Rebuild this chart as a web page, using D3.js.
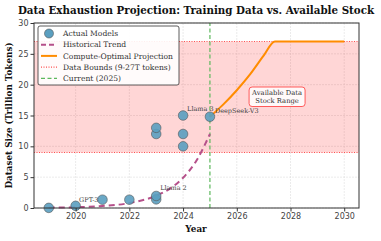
<!DOCTYPE html>
<html>
<head>
<style>
  body { margin:0; background:#fff; }
  svg text { font-family: "DejaVu Serif", serif; }
  .tick text { font-family: "DejaVu Sans", sans-serif; fill:#444; font-size:8px; }
</style>
</head>
<body>
<div id="chart"></div>
<script src="https://d3js.org/d3.v7.min.js"></script>
<script>
// actual model points
var modelYears  = [2019, 2020, 2021, 2022, 2023, 2023, 2023, 2023, 2024, 2024, 2024, 2025];
var modelTokens = [0.02, 0.35, 1.35, 1.35, 1.4, 1.95, 12, 13, 10, 12, 15, 14.8];
var labels = [
  {name:"GPT-3", i:2, dx:-4, dy:2, anchor:"end"},
  {name:"Llama 2", i:5, dx:4, dy:-6, anchor:"start"},
  {name:"Llama 3", i:10, dx:4, dy:-5, anchor:"start"},
  {name:"DeepSeek-V3", i:11, dx:5, dy:-4, anchor:"start"}
];
// historical trend (dashed)
var trendYears  = [2019, 2020, 2021, 2022, 2023, 2023.5, 2024, 2024.5, 2025];
var trendTokens = [0.05, 0.13, 0.33, 0.8, 2.0, 3.1, 4.9, 7.7, 12];
// compute-optimal projection
var projYears  = [2025, 2025.5, 2026, 2026.5, 2027, 2027.42, 2028, 2029, 2030];
var projTokens = [14.8, 16.8, 19.1, 21.7, 24.7, 27, 27, 27, 27];
// data stock bounds
var boundLow = 9, boundHigh = 27;
var currentYear = 2025;
var xTicks = [2020, 2022, 2024, 2026, 2028, 2030];
var yTicks = [0, 5, 10, 15, 20, 25, 30];

var W = 381, H = 241;
var m = {left:34, right:22, top:23, bottom:33};
var svg = d3.select("#chart").append("svg").attr("width", W).attr("height", H);

var x = d3.scaleLinear().domain([2018.45, 2030.55]).range([m.left, W - m.right]);
var y = d3.scaleLinear().domain([0, 30]).range([H - m.bottom, m.top]);

// grid
var g = svg.append("g");
g.selectAll(".gx").data(d3.range(2020, 2031, 2)).enter().append("line")
  .attr("x1", d => x(d)).attr("x2", d => x(d)).attr("y1", y(0)).attr("y2", y(30))
  .attr("stroke", "#ddd").attr("stroke-width", 0.6).attr("stroke-dasharray", "2,1");
g.selectAll(".gy").data(yTicks).enter().append("line")
  .attr("x1", x.range()[0]).attr("x2", x.range()[1]).attr("y1", d => y(d)).attr("y2", d => y(d))
  .attr("stroke", "#ddd").attr("stroke-width", 0.6).attr("stroke-dasharray", "2,1");

// band
svg.append("rect").attr("x", x.range()[0]).attr("width", x.range()[1] - x.range()[0])
  .attr("y", y(boundHigh)).attr("height", y(boundLow) - y(boundHigh))
  .attr("fill", "#ff0000").attr("fill-opacity", 0.16);
[boundLow, boundHigh].forEach(function(b){
  svg.append("line").attr("x1", x.range()[0]).attr("x2", x.range()[1])
    .attr("y1", y(b)).attr("y2", y(b))
    .attr("stroke", "#ff5050").attr("stroke-width", 1.2).attr("stroke-dasharray", "1,1.5");
});

// current year
svg.append("line").attr("x1", x(currentYear)).attr("x2", x(currentYear))
  .attr("y1", y(0)).attr("y2", y(30))
  .attr("stroke", "#5cb85c").attr("stroke-width", 1.2).attr("stroke-dasharray", "4,2.5");

var line = d3.line().x(d => x(d[0])).y(d => y(d[1])).curve(d3.curveMonotoneX);

svg.append("path").datum(d3.zip(trendYears, trendTokens)).attr("d", line)
  .attr("fill", "none").attr("stroke", "#b5508a").attr("stroke-width", 2)
  .attr("stroke-dasharray", "6,4");

svg.append("path").datum(d3.zip(projYears, projTokens)).attr("d", line)
  .attr("fill", "none").attr("stroke", "#ff8c00").attr("stroke-width", 2);

// points
svg.selectAll("circle.pt").data(d3.zip(modelYears, modelTokens)).enter().append("circle")
  .attr("cx", d => x(d[0])).attr("cy", d => y(d[1])).attr("r", 4.8)
  .attr("fill", "#5a9fc0").attr("fill-opacity", 0.9).attr("stroke", "#555").attr("stroke-width", 0.6);

svg.selectAll("text.lab").data(labels).enter().append("text")
  .attr("x", d => x(modelYears[d.i]) + d.dx).attr("y", d => y(modelTokens[d.i]) + d.dy)
  .attr("text-anchor", d => d.anchor).attr("font-size", 6.5).attr("fill", "#444")
  .text(d => d.name);

// annotation box
var ax = x(2027.5), ay = y(18);
svg.append("rect").attr("x", ax - 28).attr("y", ay - 10).attr("width", 56).attr("height", 19.5)
  .attr("rx", 3).attr("fill", "#fff").attr("fill-opacity", 0.85)
  .attr("stroke", "#ff5a5a").attr("stroke-width", 1);
svg.append("text").attr("x", ax).attr("y", ay - 2).attr("text-anchor", "middle")
  .attr("font-size", 6.8).attr("fill", "#333").text("Available Data");
svg.append("text").attr("x", ax).attr("y", ay + 6).attr("text-anchor", "middle")
  .attr("font-size", 6.8).attr("fill", "#333").text("Stock Range");

// axes
var xa = svg.append("g").attr("transform", "translate(0," + y(0) + ")")
  .call(d3.axisBottom(x).tickValues(xTicks).tickFormat(d3.format("d")).tickSize(3.5).tickPadding(2));
var ya = svg.append("g").attr("transform", "translate(" + m.left + ",0)")
  .call(d3.axisLeft(y).tickValues(yTicks).tickSize(3.5).tickPadding(2));
[xa, ya].forEach(a => { a.select(".domain").remove(); a.selectAll(".tick line").attr("stroke", "#333"); });

svg.append("rect").attr("x", x.range()[0]).attr("y", y(30))
  .attr("width", x.range()[1] - x.range()[0]).attr("height", y(0) - y(30))
  .attr("fill", "none").attr("stroke", "#333").attr("stroke-width", 1);

// titles
svg.append("text").attr("x", 196).attr("y", 14).attr("text-anchor", "middle")
  .attr("font-size", 10.3).attr("font-weight", "bold").attr("fill", "#111")
  .text("Data Exhaustion Projection: Training Data vs. Available Stock");
svg.append("text").attr("x", 196).attr("y", 232).attr("text-anchor", "middle")
  .attr("font-size", 8.8).attr("font-weight", "bold").attr("fill", "#111").text("Year");
svg.append("text").attr("transform", "translate(12," + ((y(0) + y(30)) / 2) + ") rotate(-90)")
  .attr("text-anchor", "middle").attr("font-size", 8.8).attr("font-weight", "bold").attr("fill", "#111")
  .text("Dataset Size (Trillion Tokens)");

// legend
var lg = svg.append("g").attr("transform", "translate(38,26)");
lg.append("rect").attr("width", 141).attr("height", 59).attr("rx", 2)
  .attr("fill", "#fff").attr("fill-opacity", 0.9).attr("stroke", "#333").attr("stroke-width", 0.8);
var items = [
  {t:"Actual Models", type:"dot"},
  {t:"Historical Trend", type:"line", c:"#b5508a", dash:"5,3", w:2},
  {t:"Compute-Optimal Projection", type:"line", c:"#ff8c00", dash:null, w:2},
  {t:"Data Bounds (9-27T tokens)", type:"line", c:"#ff5050", dash:"1,1.5", w:1.2},
  {t:"Current (2025)", type:"line", c:"#5cb85c", dash:"4,2.5", w:1.2}
];
items.forEach(function(it, i){
  var yy = 7.5 + i * 11.2;
  if (it.type === "dot") {
    lg.append("circle").attr("cx", 11).attr("cy", yy).attr("r", 4.5)
      .attr("fill", "#5a9fc0").attr("stroke", "#555").attr("stroke-width", 0.6);
  } else {
    lg.append("line").attr("x1", 3).attr("x2", 19).attr("y1", yy).attr("y2", yy)
      .attr("stroke", it.c).attr("stroke-width", it.w).attr("stroke-dasharray", it.dash);
  }
  lg.append("text").attr("x", 25).attr("y", yy + 2.6).attr("font-size", 7.6).attr("fill", "#333").text(it.t);
});
</script>
</body>
</html>
